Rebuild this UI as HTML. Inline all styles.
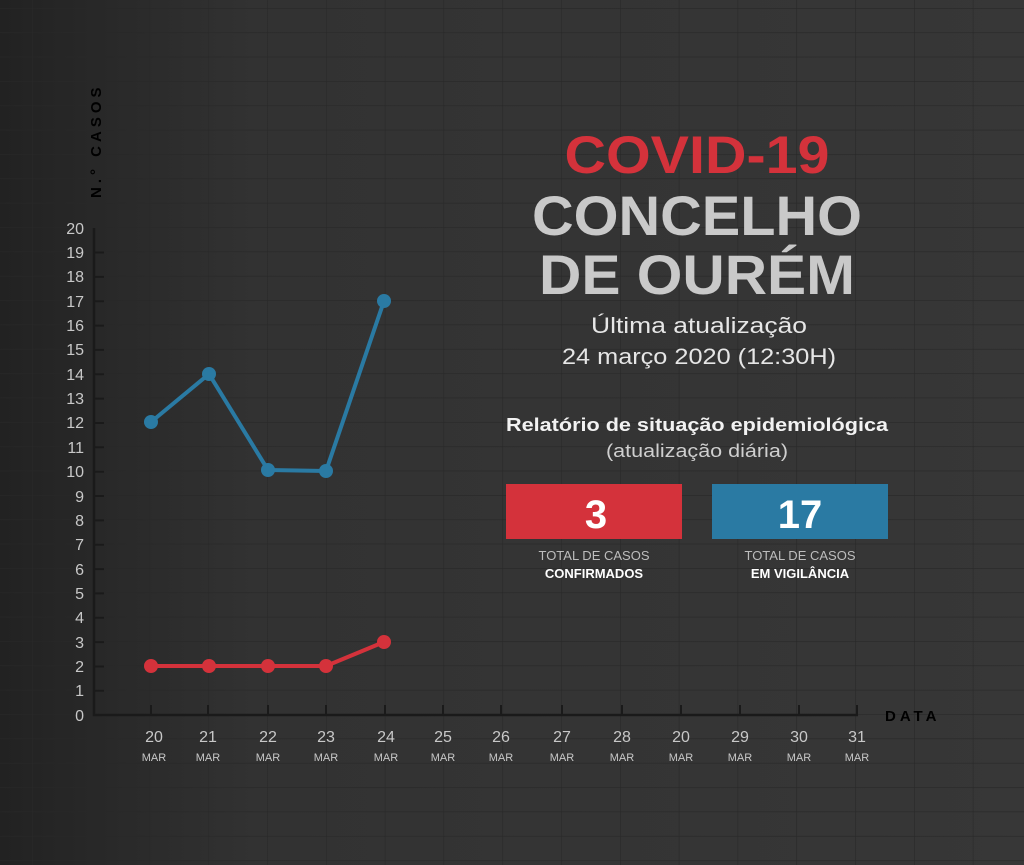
<!DOCTYPE html>
<html><head><meta charset="utf-8"><style>
html,body{margin:0;padding:0;background:#333}
svg{display:block}
</style></head><body>
<svg width="1024" height="865" viewBox="0 0 1024 865" xmlns="http://www.w3.org/2000/svg" font-family="Liberation Sans, sans-serif">
<defs>
<linearGradient id="bg" x1="0" y1="0" x2="1" y2="0">
<stop offset="0" stop-color="#222"/><stop offset="0.25" stop-color="#323232"/><stop offset="1" stop-color="#373737"/>
</linearGradient>
<pattern id="grid" x="32" y="8" width="58.8" height="24.35" patternUnits="userSpaceOnUse">
<path d="M0 0H58.8M0 0V24.35" stroke="#282828" stroke-width="1.2" fill="none"/>
</pattern>
</defs>
<rect width="1024" height="865" fill="url(#bg)"/>
<rect width="1024" height="865" fill="url(#grid)"/>

<text transform="translate(101,198) rotate(-90)" font-size="15" font-weight="bold" fill="#000" letter-spacing="4">N.° CASOS</text>
<text x="885" y="721" font-size="15" font-weight="bold" fill="#000" letter-spacing="4">DATA</text>

<g stroke="#1a1a1a" stroke-width="2.5" fill="none">
<path d="M94 228V715H858"/>
</g>
<g stroke="#1a1a1a" stroke-width="2">
<path d="M94 252.5h10M94 276.9h10M94 301.2h10M94 325.6h10M94 349.9h10M94 374.3h10M94 398.6h10M94 423h10M94 447.3h10M94 471.7h10M94 496h10M94 520.4h10M94 544.7h10M94 569.1h10M94 593.4h10M94 617.8h10M94 642.1h10M94 666.5h10M94 690.8h10"/>
<path d="M151 705v10M208 705v10M268 705v10M326 705v10M385 705v10M443 705v10M501 705v10M562 705v10M622 705v10M681 705v10M740 705v10M799 705v10M857 705v10"/>
</g>

<g font-size="16" fill="#c8c8c8" text-anchor="end">
<text x="84" y="234">20</text><text x="84" y="258">19</text><text x="84" y="282">18</text><text x="84" y="307">17</text><text x="84" y="331">16</text><text x="84" y="355">15</text><text x="84" y="380">14</text><text x="84" y="404">13</text><text x="84" y="428">12</text><text x="84" y="453">11</text><text x="84" y="477">10</text><text x="84" y="502">9</text><text x="84" y="526">8</text><text x="84" y="550">7</text><text x="84" y="575">6</text><text x="84" y="599">5</text><text x="84" y="623">4</text><text x="84" y="648">3</text><text x="84" y="672">2</text><text x="84" y="696">1</text><text x="84" y="721">0</text>
</g>
<g font-size="16" fill="#c8c8c8" text-anchor="middle">
<text x="154" y="742">20</text><text x="208" y="742">21</text><text x="268" y="742">22</text><text x="326" y="742">23</text><text x="386" y="742">24</text><text x="443" y="742">25</text><text x="501" y="742">26</text><text x="562" y="742">27</text><text x="622" y="742">28</text><text x="681" y="742">20</text><text x="740" y="742">29</text><text x="799" y="742">30</text><text x="857" y="742">31</text>
</g>
<g font-size="11" fill="#c8c8c8" text-anchor="middle">
<text x="154" y="761">MAR</text><text x="208" y="761">MAR</text><text x="268" y="761">MAR</text><text x="326" y="761">MAR</text><text x="386" y="761">MAR</text><text x="443" y="761">MAR</text><text x="501" y="761">MAR</text><text x="562" y="761">MAR</text><text x="622" y="761">MAR</text><text x="681" y="761">MAR</text><text x="740" y="761">MAR</text><text x="799" y="761">MAR</text><text x="857" y="761">MAR</text>
</g>

<polyline points="151,422 209,374 268,470 326,471 384,301" fill="none" stroke="#2a7aa3" stroke-width="4" stroke-linejoin="round"/>
<g fill="#2a7aa3"><circle cx="151" cy="422" r="7"/><circle cx="209" cy="374" r="7"/><circle cx="268" cy="470" r="7"/><circle cx="326" cy="471" r="7"/><circle cx="384" cy="301" r="7"/></g>
<polyline points="151,666 209,666 268,666 326,666 384,642" fill="none" stroke="#d4323b" stroke-width="4" stroke-linejoin="round"/>
<g fill="#d4323b"><circle cx="151" cy="666" r="7"/><circle cx="209" cy="666" r="7"/><circle cx="268" cy="666" r="7"/><circle cx="326" cy="666" r="7"/><circle cx="384" cy="642" r="7"/></g>

<g font-weight="bold" text-anchor="middle">
<text x="697" y="173" font-size="53" fill="#d4323b" textLength="265" lengthAdjust="spacingAndGlyphs">COVID-19</text>
<text x="697" y="235" font-size="56" fill="#c9c9c9" textLength="330" lengthAdjust="spacingAndGlyphs">CONCELHO</text>
<text x="697" y="294" font-size="56" fill="#c9c9c9" textLength="316" lengthAdjust="spacingAndGlyphs">DE OURÉM</text>
</g>
<g text-anchor="middle" fill="#e6e6e6" font-size="22">
<text x="699" y="333" textLength="216" lengthAdjust="spacingAndGlyphs">Última atualização</text>
<text x="699" y="364" textLength="274" lengthAdjust="spacingAndGlyphs">24 março 2020 (12:30H)</text>
</g>
<text x="697" y="431" text-anchor="middle" font-size="18" font-weight="bold" fill="#f2f2f2" textLength="382" lengthAdjust="spacingAndGlyphs">Relatório de situação epidemiológica</text>
<text x="697" y="457" text-anchor="middle" font-size="18" fill="#cfcfcf" textLength="182" lengthAdjust="spacingAndGlyphs">(atualização diária)</text>

<rect x="506" y="484" width="176" height="55" fill="#d4323b"/>
<rect x="712" y="484" width="176" height="55" fill="#2a7aa3"/>
<text x="596" y="528" text-anchor="middle" font-size="40" font-weight="bold" fill="#fff">3</text>
<text x="800" y="528" text-anchor="middle" font-size="40" font-weight="bold" fill="#fff">17</text>
<g text-anchor="middle" font-size="13">
<text x="594" y="560" fill="#bdbdbd">TOTAL DE CASOS</text>
<text x="594" y="578" fill="#fff" font-weight="bold">CONFIRMADOS</text>
<text x="800" y="560" fill="#bdbdbd">TOTAL DE CASOS</text>
<text x="800" y="578" fill="#fff" font-weight="bold">EM VIGILÂNCIA</text>
</g>
</svg>
</body></html>
